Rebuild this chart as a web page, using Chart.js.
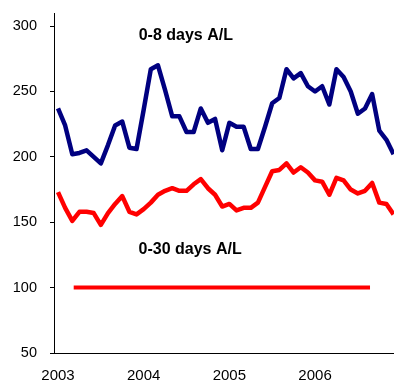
<!DOCTYPE html>
<html><head><meta charset="utf-8">
<script src="https://cdn.jsdelivr.net/npm/chart.js@4"></script>
<style>html,body{margin:0;padding:0;background:#fff;}#wrap{width:394px;height:381px;}</style>
</head><body><div id="wrap"><canvas id="c" width="394" height="381"></canvas></div>
<script>
// month index since Jan 2003
const months = [0,1,2,3,4,5,6,7,8,9,10,11,12,13,14,15,16,17,18,19,20,21,22,23,24,25,26,27,28,29,30,31,32,33,34,35,36,37,38,39,40,41,42,43,44,45,46,47];
const days0to8 = [237,224,202,203,205,200,195,209,224,227,207,206,236,267,270,251,231,231,219,219,237,226,229,205,226,223,223,206,206,223,241,245,267,260,264,254,250,254,240,267,261,250,233,237,248,220,213,202];
const days0to30 = [173,161,151,158,158,157,148,157,164,170,158,156,160,165,171,174,176,174,174,179,183,176,171,162,164,159,161,161,165,177,189,190,195,188,192,188,182,181,171,184,182,175,172,174,180,165,164,156];
const targetMonths = [2.2, 43.7];
const targetValues = [100, 100];
const yearLabels = ['2003','2004','2005','2006'];
const yearMonths = [0,12,24,36];
const yTickValues = [50,100,150,200,250,300];
const seriesNames = ['0-8 days A/L','0-30 days A/L'];
const nameMonths = [17.9, 18.5];
const nameValues = [293, 128.8];

const FONT = '"Liberation Sans", Arial, sans-serif';

const textPlugin = {
  id: 'seriesText',
  afterDatasetsDraw(chart) {
    const ctx = chart.ctx, xs = chart.scales.x, ys = chart.scales.y;
    ctx.save();
    ctx.font = 'bold 16px ' + FONT;
    ctx.fillStyle = '#000';
    ctx.textAlign = 'center';
    ctx.textBaseline = 'middle';
    seriesNames.forEach((t, i) => {
      ctx.fillText(t, xs.getPixelForValue(nameMonths[i]), ys.getPixelForValue(nameValues[i]));
    });
    ctx.restore();
  }
};

new Chart(document.getElementById('c'), {
  type: 'line',
  data: {
    datasets: [
      { label: seriesNames[0], data: months.map((m, i) => ({x: m, y: days0to8[i]})),
        borderColor: '#000080', borderWidth: 4.5, pointRadius: 0, tension: 0, borderJoinStyle: 'round' },
      { label: seriesNames[1], data: months.map((m, i) => ({x: m, y: days0to30[i]})),
        borderColor: '#FF0000', borderWidth: 4.5, pointRadius: 0, tension: 0, borderJoinStyle: 'round' },
      { label: 'target', data: targetMonths.map((m, i) => ({x: m, y: targetValues[i]})),
        borderColor: '#FF0000', borderWidth: 4, pointRadius: 0, tension: 0, borderCapStyle: 'butt' }
    ]
  },
  options: {
    responsive: false,
    devicePixelRatio: 1,
    animation: false,
    layout: { padding: { top: 13, right: 0, left: 0, bottom: 0 } },
    plugins: { legend: { display: false }, tooltip: { enabled: false } },
    scales: {
      x: {
        type: 'linear', min: -0.56, max: 47.06,
        afterBuildTicks: s => { s.ticks = yearMonths.map(v => ({ value: v })); },
        afterFit: s => { s.height = 28; s.paddingLeft = 0; s.paddingRight = 0; },
        ticks: {
          callback: v => yearLabels[yearMonths.indexOf(v)],
          autoSkip: false, maxRotation: 0, padding: 14,
          font: { size: 15, family: FONT }, color: '#000'
        },
        grid: { display: false, drawTicks: false },
        border: { display: true, color: '#000', width: 1 }
      },
      y: {
        min: 50, max: 310,
        afterBuildTicks: s => { s.ticks = yTickValues.map(v => ({ value: v })); },
        afterFit: s => { s.width = 54; s.paddingTop = 0; s.paddingBottom = 0; },
        ticks: { padding: 13, font: { size: 14.5, family: FONT }, color: '#000' },
        grid: { drawOnChartArea: false, drawTicks: true, tickLength: 4, color: '#000' },
        border: { display: true, color: '#000', width: 1 }
      }
    }
  },
  plugins: [textPlugin]
});
</script></body></html>
